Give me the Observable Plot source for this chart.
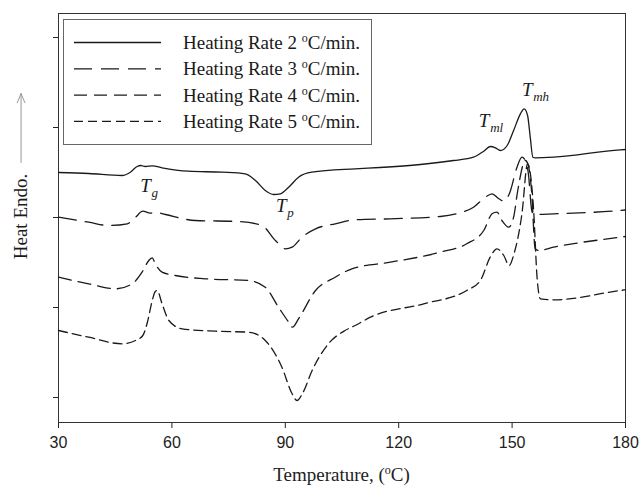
<!DOCTYPE html>
<html>
<head>
<meta charset="utf-8">
<script src="https://cdn.jsdelivr.net/npm/d3@7"></script>
<script src="https://cdn.jsdelivr.net/npm/@observablehq/plot@0.6"></script>
<style>
  body { margin: 0; background: #fff; }
  #wrap { position: relative; width: 640px; height: 489px; background: #fff; }
  #legend { position: absolute; left: 63px; top: 19px; }
  #xlabel { position: absolute; left: 58px; width: 567px; top: 464px; height: 25px; line-height: 25px;
            text-align: center; font: 19px "Liberation Serif", "Times New Roman", serif; color: #222; }
  #xlabel sup { font-size: 12px; vertical-align: 7px; line-height: 0; }
</style>
</head>
<body>
<div id="wrap">
  <div id="chart"></div>
  <div id="xlabel">Temperature, (<sup>o</sup>C)</div>
  <svg id="legend"></svg>
</div>
<script>
// ---- data (temperature in °C, heat flow in arbitrary units) ----
const rate2T  = [30, 38, 46.8, 49, 50.8, 51.7, 53, 54.8, 57.4, 64.4, 73.3, 79.4, 82.1, 84.7, 86.9, 88.7, 90.9, 93.5, 97, 108.5, 115, 125.7, 134.5, 139.8, 142.5, 144.2, 145.6, 146.9, 148.7, 150.4, 152.2, 153.2, 154.1, 154.8, 155.5, 156.1, 161, 178.6, 180];
const rate2HF = [25.0, 24.9, 24.7, 25.03, 25.6, 25.7, 25.6, 25.67, 25.47, 25.13, 25.03, 24.87, 24.2, 23.2, 22.8, 22.87, 23.53, 24.53, 25.03, 25.37, 25.5, 25.8, 26.2, 26.53, 27.13, 27.6, 27.47, 27.2, 27.7, 29.2, 30.87, 31.37, 30.7, 28.53, 26.53, 26.47, 26.53, 27.27, 27.3];

const rate3T  = [30, 38, 43.3, 48.2, 50.4, 52.3, 54.3, 55.6, 58.3, 66.2, 77.7, 83.8, 87.4, 90, 91.8, 94.4, 98, 103.2, 108.5, 117.8, 131, 136, 139.8, 142.9, 144.7, 146.5, 147.8, 149.3, 151.3, 152.6, 153.5, 154.3, 155.2, 155.7, 161, 178.6, 180];
const rate3HF = [20.53, 20.03, 19.7, 19.87, 20.53, 21.13, 20.93, 21.03, 20.8, 20.2, 20.1, 19.7, 18.2, 17.37, 17.53, 18.53, 19.37, 19.87, 20.27, 20.37, 20.6, 20.95, 21.53, 22.53, 22.87, 22.37, 22.13, 22.9, 25.53, 26.53, 26.2, 24.9, 21.2, 20.8, 20.87, 21.2, 21.25];

const rate4T  = [30, 38, 45.1, 49.5, 52.1, 53.9, 54.8, 55.6, 57.4, 60.9, 68.9, 80.3, 84.7, 88.2, 90.9, 91.9, 93.5, 98, 103.2, 107.6, 117.8, 131, 138, 142.5, 144.7, 146, 147.3, 149.1, 150.4, 151.5, 153.5, 154.3, 155.2, 156.1, 157, 161, 178.6, 180];
const rate4HF = [14.53, 13.87, 13.37, 13.87, 15.03, 16.2, 16.47, 15.87, 15.03, 14.7, 14.37, 14.2, 13.53, 11.53, 10.03, 9.53, 10.37, 13.2, 14.53, 15.37, 16.03, 17.03, 17.87, 19.2, 20.87, 21.03, 20.2, 19.53, 20.53, 23.2, 26.2, 25.7, 22.9, 17.37, 17.2, 17.53, 18.53, 18.6];

const rate5T  = [30, 38, 46.8, 50.4, 52.3, 53.5, 54.8, 55.6, 56.1, 57.4, 59.2, 62.7, 71.5, 80.3, 84.7, 89.1, 91.8, 93.1, 94.5, 97.1, 101.4, 105.8, 108.5, 112.5, 126.6, 138, 141.6, 144.2, 146, 147.8, 149.2, 150.5, 152.6, 154.1, 155.7, 156.6, 157.5, 161, 178.6, 180];
const rate5HF = [9.2, 8.53, 7.87, 8.2, 8.7, 10.0, 12.2, 13.1, 13.2, 11.87, 10.2, 9.37, 9.13, 9.03, 8.2, 5.53, 2.87, 2.2, 2.87, 5.2, 7.87, 9.2, 9.7, 10.53, 11.87, 13.2, 14.2, 16.53, 17.37, 16.7, 15.7, 16.87, 20.87, 25.87, 21.2, 14.53, 12.37, 12.27, 13.2, 13.27];

const seriesNames = ["Heating Rate 2", "Heating Rate 3", "Heating Rate 4", "Heating Rate 5"];
const seriesDash  = [null, "18,9", "13,7", "9,5"];
const xTicks = [30, 60, 90, 120, 150, 180];
const yTicks = [2.5, 11.5, 20.5, 29.5, 38.5];

const annoT   = [53.0, 88.95, 142.6, 154.0];
const annoHF  = [23.7, 21.7, 30.2, 33.3];
const annoSub = ["g", "p", "ml", "mh"];

const arrowAnno = [{x: 20.1, y1: 26.0, y2: 32.9}];

// ---- build tables ----
const allT  = [rate2T, rate3T, rate4T, rate5T];
const allHF = [rate2HF, rate3HF, rate4HF, rate5HF];
const seriesData = allT.map((ts, i) => ts.map((t, j) => ({T: t, hf: allHF[i][j], series: seriesNames[i]})));
const annos = annoT.map((t, i) => ({T: t, hf: annoHF[i], sub: annoSub[i]}));

const serif = "'Liberation Serif', 'Times New Roman', serif";
const ink = "#1a1a1a";

const chart = Plot.plot({
  width: 640,
  height: 464,
  marginLeft: 58,
  marginRight: 15,
  marginTop: 13,
  marginBottom: 42,
  x: {domain: [30, 180]},
  y: {domain: [0, 40.9]},
  style: {fontFamily: "'Liberation Sans', Arial, sans-serif", background: "#fff", color: "#222"},
  marks: [
    Plot.axisX({ticks: xTicks, tickSize: 6, tickPadding: 8, fontSize: 16, label: null}),
    Plot.axisY({ticks: yTicks, tickSize: 5, tickFormat: () => "", label: null}),
    Plot.frame({stroke: "#333", strokeWidth: 1}),
    ...seriesData.map((d, i) => Plot.line(d, {
      x: "T", y: "hf", stroke: ink, strokeWidth: 1.3,
      strokeDasharray: seriesDash[i] || undefined, curve: "monotone-x"
    })),
    Plot.text(annos, {x: "T", y: "hf", text: () => "T", fontSize: 19, fontStyle: "italic", fontFamily: serif, fill: ink}),
    Plot.text(annos, {x: "T", y: "hf", text: "sub", dx: 6, dy: 7, textAnchor: "start", fontSize: 13, fontStyle: "italic", fontFamily: serif, fill: ink}),
    Plot.text(["Heat Endo."], {text: d => d, frameAnchor: "left", textAnchor: "middle", dx: -38, dy: -1.5, rotate: -90, fontSize: 19, fontFamily: serif, fill: ink}),
    Plot.arrow(arrowAnno, {x1: "x", x2: "x", y1: "y1", y2: "y2", stroke: "#999", strokeWidth: 1, headLength: 15, headAngle: 45})
  ]
});
document.getElementById("chart").appendChild(chart);

// ---- legend (inside plot area) ----
const leg = d3.select("#legend").attr("width", 309).attr("height", 126);
leg.append("rect").attr("x", 0.5).attr("y", 0.5).attr("width", 308).attr("height", 125)
   .attr("fill", "#fff").attr("stroke", "#666").attr("stroke-width", 1);
seriesNames.forEach((name, i) => {
  const y = 23.5 + i * 26.3;
  leg.append("line").attr("x1", 11).attr("x2", 98).attr("y1", y).attr("y2", y)
     .attr("stroke", ink).attr("stroke-width", 1.3)
     .attr("stroke-dasharray", seriesDash[i]);
  const t = leg.append("text").attr("x", 120).attr("y", y + 6.5)
     .attr("font-family", serif).attr("font-size", 19).attr("fill", ink);
  t.append("tspan").text(name + " ");
  t.append("tspan").attr("font-size", 12).attr("dy", -7).text("o");
  t.append("tspan").attr("dy", 7).text("C/min.");
});
</script>
</body>
</html>
